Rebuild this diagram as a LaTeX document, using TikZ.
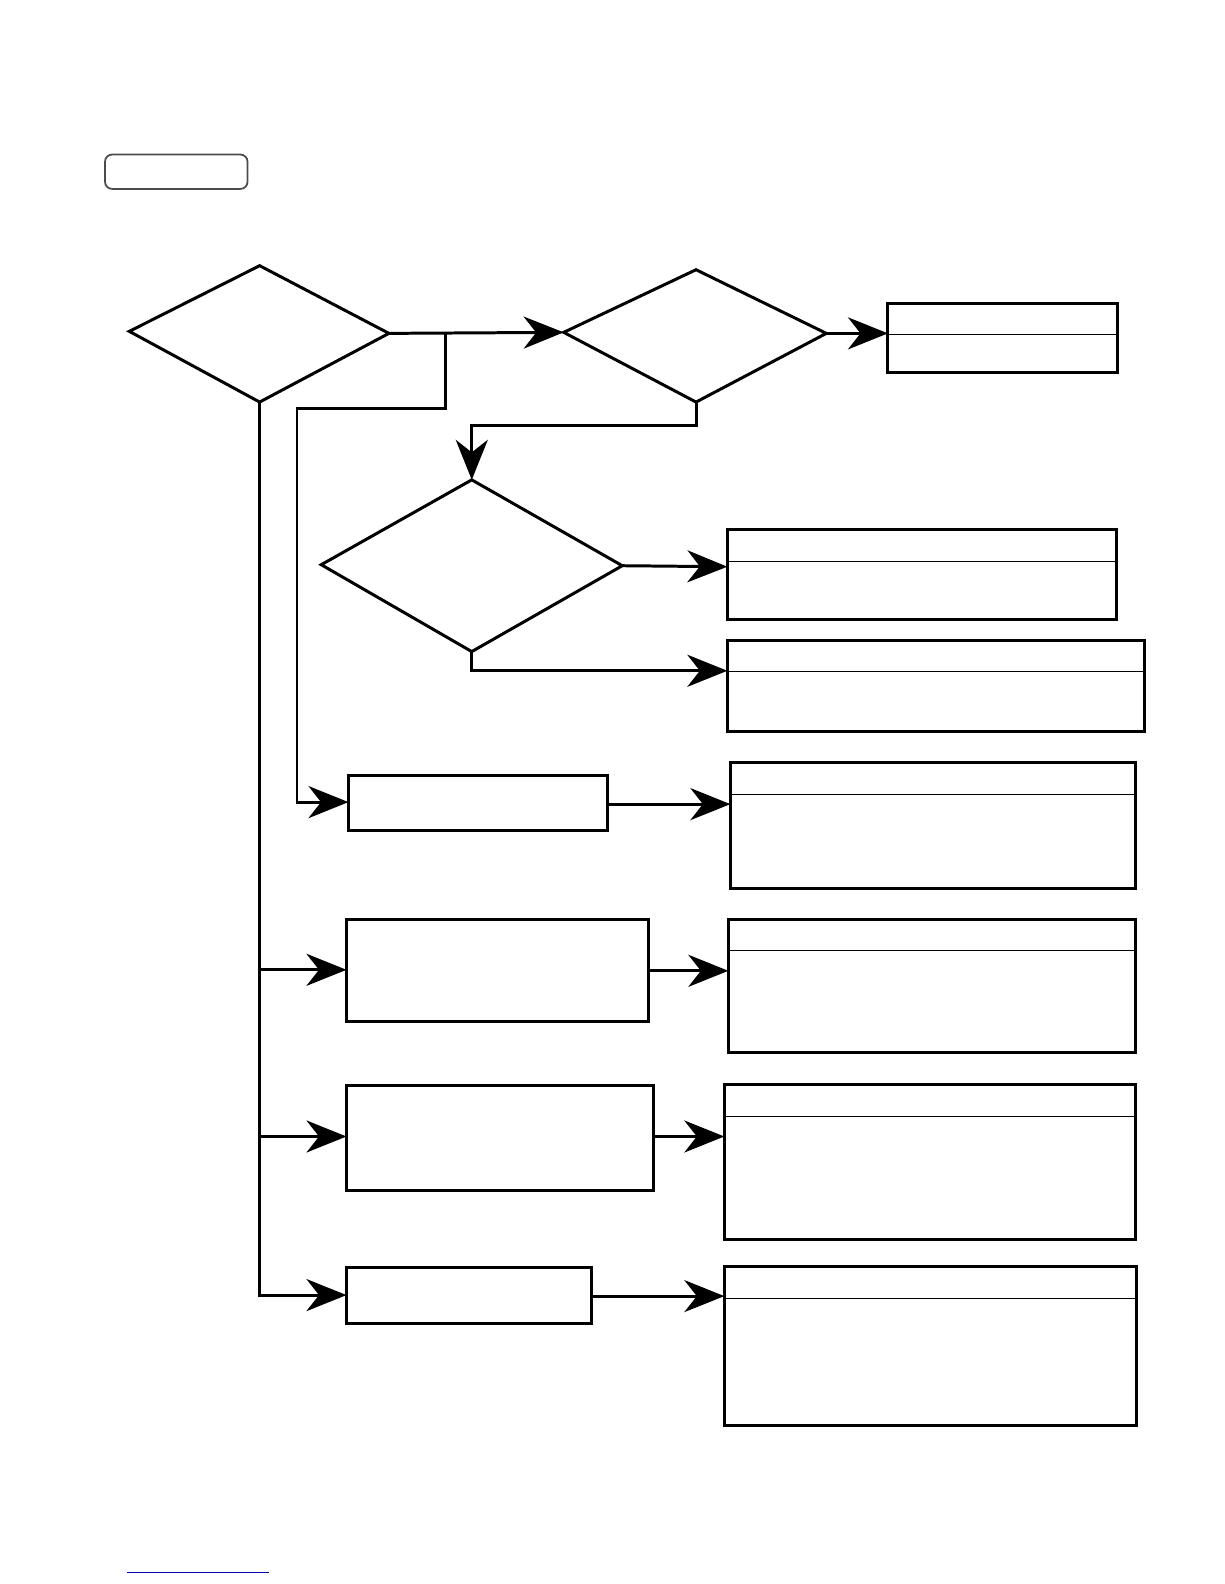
\documentclass[tikz,border=0pt]{standalone}
\usetikzlibrary{arrows.meta}
\newcommand{\rbox}[6]{\draw[ln] (#2,#3) rectangle (#4,#5); \draw[thinln] (#2,#6)--(#4,#6);\coordinate (#1) at (#2,{(#3+#5)/2});}
\begin{document}
\begin{tikzpicture}[x=0.0202cm,y=-0.0202cm,
  ln/.style={line width=1.7pt,line join=miter},
  arr/.style={ln,-{Stealth[length=0.8cm,width=0.64cm,inset=0.25cm]}},
  thinln/.style={line width=0.6pt}]
\fill[white] (0,0) rectangle (1212,1568);
\draw[line width=1pt,rounded corners=4pt,black!70] (104,153) rectangle (245,187);
\draw[blue!70!black,line width=0.6pt] (126,1557) -- (266,1557);
\coordinate (d1l) at (128,328); \coordinate (d1t) at (257,263); \coordinate (d1r) at (385,330); \coordinate (d1b) at (257,398);
\coordinate (d2l) at (558,329); \coordinate (d2t) at (689,267); \coordinate (d2r) at (818,330); \coordinate (d2b) at (689,398);
\coordinate (d3l) at (318,559); \coordinate (d3t) at (467,475); \coordinate (d3r) at (616,560); \coordinate (d3b) at (467,645);
\draw[ln] (d1l)--(d1t)--(d1r)--(d1b)--cycle;
\draw[ln] (d2l)--(d2t)--(d2r)--(d2b)--cycle;
\draw[ln] (d3l)--(d3t)--(d3r)--(d3b)--cycle;
\rbox{b1}{879}{300}{1106}{369}{331}
\rbox{r1}{720}{524}{1105}{613}{556}
\rbox{r2}{720}{634}{1133}{724}{665}
\rbox{r3}{723}{755}{1124}{880}{786}
\rbox{r4}{721}{910}{1124}{1042}{941}
\rbox{r5}{717}{1074}{1124}{1227}{1105}
\rbox{r6}{717}{1254}{1125}{1411}{1285}
\draw[ln] (345,768) rectangle (601,822); \coordinate (m1l) at (345,794); \coordinate (m1r) at (601,796);
\draw[ln] (343,910) rectangle (642,1011); \coordinate (m2l) at (343,960); \coordinate (m2r) at (642,961);
\draw[ln] (343,1075) rectangle (647,1178); \coordinate (m3l) at (343,1125); \coordinate (m3r) at (647,1125);
\draw[ln] (343,1255) rectangle (586,1310); \coordinate (m4l) at (343,1282); \coordinate (m4r) at (586,1283);
\draw[arr] (d1r) -- (d2l);
\draw[arr] (441,330) -- (441,404) -- (294,404) -- (294,794) -- (m1l);
\draw[arr] (d1b) -- (257,1282) -- (m4l);
\draw[arr] (257,960) -- (m2l);
\draw[arr] (257,1125) -- (m3l);
\draw[arr] (d2r) -- (879,330);
\draw[arr] (d2b) -- (689,421) -- (467,421) -- (d3t);
\draw[arr] (d3r) -- (720,561);
\draw[arr] (d3b) -- (467,664) -- (720,664);
\draw[arr] (m1r) -- (723,796);
\draw[arr] (m2r) -- (721,961);
\draw[arr] (m3r) -- (717,1125);
\draw[arr] (m4r) -- (717,1283);
\pgfresetboundingbox
\path[use as bounding box] (0,0) rectangle (1212,1568);
\end{tikzpicture}
\end{document}
